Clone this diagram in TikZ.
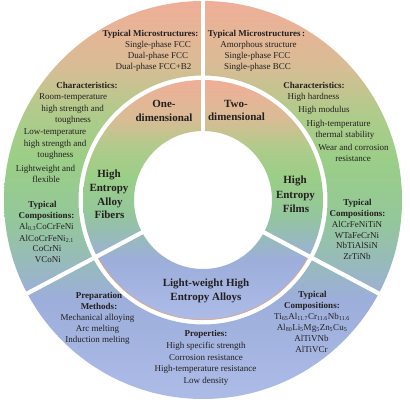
\documentclass[tikz,border=0pt]{standalone}
\usepackage{fontspec}
\setmainfont{Liberation Serif}
\usetikzlibrary{calc}
\definecolor{c1}{HTML}{F0AE98}
\definecolor{c2}{HTML}{D9BC95}
\definecolor{c3}{HTML}{B0CB8B}
\definecolor{c4}{HTML}{9BCE87}
\definecolor{c5}{HTML}{94C79A}
\definecolor{c6}{HTML}{97BBB9}
\definecolor{c7}{HTML}{9DAEDB}
\definecolor{cB}{HTML}{ADBBE7}
\definecolor{ink}{HTML}{231F20}
\definecolor{rim}{HTML}{E9A77A}
\pgfdeclareverticalshading{ringshade}{100bp}{color(0bp)=(cB); color(25bp)=(cB); color(37.5bp)=(c7); color(42.5bp)=(c6); color(47.5bp)=(c5); color(55bp)=(c4); color(61bp)=(c3); color(67bp)=(c2); color(75bp)=(c1); color(100bp)=(c1)}
\begin{document}
\begin{tikzpicture}[x=1pt,y=1pt,
  txt/.style={font=\fontsize{9}{11}\selectfont, anchor=base, inner sep=0pt, text=ink},
  hd/.style={txt, font=\bfseries\fontsize{9}{11}\selectfont},
  big/.style={txt, font=\bfseries\fontsize{11}{14}\selectfont},
  divider/.style={white, line width=4.2pt},
  rimline/.style={rim, line width=0.6pt}]
\fill[white] (0,0) rectangle (410,-403);
\useasboundingbox (0,0) rectangle (410,-403);
\coordinate (c) at (203,-200);
% outer ring
\begin{scope}[even odd rule]
\clip (c) circle (199pt) (c) circle (124.5pt);
\shade[shading=ringshade] (4,-1) rectangle (402,-399);
\end{scope}
% inner ring
\begin{scope}[even odd rule]
\clip (c) circle (120pt) (c) circle (69pt);
\shade[shading=ringshade] (83,-80) rectangle (323,-320);
\end{scope}
\draw[rimline] ($(c)+(208:119.7pt)$) arc[start angle=208, end angle=332, radius=119.7pt];
\foreach \a in {90,208,332}
  \draw[divider] ($(c)+(\a:64pt)$) -- ($(c)+(\a:206pt)$);
% top-left outer
\node[hd] (tl1) at (150.5,-36.5) {Typical Microstructures:};
\node[txt] (tl2) at (158,-47.5) {Single-phase FCC};
\node[txt] (tl3) at (158,-58.5) {Dual-phase FCC};
\node[txt] (tl4) at (153.5,-69.5) {Dual-phase FCC+B2};
% top-right outer
\node[hd] (tr1) at (256.5,-36.5) {Typical Microstructures\,:};
\node[txt] (tr2) at (258.5,-47.5) {Amorphous structure};
\node[txt] (tr3) at (257.5,-58.5) {Single-phase FCC};
\node[txt] (tr4) at (257.5,-69.5) {Single-phase BCC};
% left characteristics
\node[hd] (lc0) at (87,-88.5) {Characteristics:};
\node[txt] (lc1) at (73,-100) {Room-temperature};
\node[txt] (lc2) at (72.5,-111.5) {high strength and};
\node[txt] (lc3) at (73,-123) {toughness};
\node[txt] (lc4) at (55,-135) {Low-temperature};
\node[txt] (lc5) at (55,-146.5) {high strength and};
\node[txt] (lc6) at (55.5,-158) {toughness};
\node[txt] (lc7) at (45.5,-172) {Lightweight and};
\node[txt] (lc8) at (46,-183) {flexible};
% left compositions
\node[hd] (lp0) at (42.5,-207.5) {Typical};
\node[hd] (lp1) at (46.5,-219) {Compositions:};
\node[txt] (lp2) at (46.5,-230) {Al\textsubscript{0.3}CoCrFeNi};
\node[txt] (lp3) at (46.5,-241.5) {AlCoCrFeNi\textsubscript{2.1}};
\node[txt] (lp4) at (47,-251.5) {CoCrNi};
\node[txt] (lp5) at (48,-262.5) {VCoNi};
% right characteristics
\node[hd] (rc0) at (314,-88.5) {Characteristics:};
\node[txt] (rc1) at (313.5,-100) {High hardness};
\node[txt] (rc2) at (324,-112.5) {High modulus};
\node[txt] (rc3) at (338.5,-127) {High-temperature};
\node[txt] (rc4) at (345,-138) {thermal stability};
\node[txt] (rc5) at (353.5,-151) {Wear and corrosion};
\node[txt] (rc6) at (353,-162) {resistance};
% right compositions
\node[hd] (rp0) at (357.5,-206) {Typical};
\node[hd] (rp1) at (357.5,-217) {Compositions:};
\node[txt] (rp2) at (357,-227.5) {AlCrFeNiTiN};
\node[txt] (rp3) at (357,-238.5) {WTaFeCrNi};
\node[txt] (rp4) at (357,-249) {NbTiAlSiN};
\node[txt] (rp5) at (357,-260) {ZrTiNb};
% inner ring labels
\node[big] (od1) at (164,-108) {One-};
\node[big] (od2) at (164,-121.5) {dimensional};
\node[big] (td1) at (236,-107.5) {Two-};
\node[big] (td2) at (236.5,-121) {dimensional};
\node[big] (fb1) at (109,-177.5) {High};
\node[big] (fb2) at (109,-191.5) {Entropy};
\node[big] (fb3) at (110,-205.5) {Alloy};
\node[big] (fb4) at (109.5,-219) {Fibers};
\node[big] (fm1) at (295,-184) {High};
\node[big] (fm2) at (295.5,-198.5) {Entropy};
\node[big] (fm3) at (296,-212.5) {Films};
\node[big] (lw1) at (206,-287) {Light-weight High};
\node[big] (lw2) at (206,-301) {Entropy Alloys};
% bottom-left
\node[hd] (bl0) at (99,-299) {Preparation};
\node[hd] (bl1) at (99,-310) {Methods:};
\node[txt] (bl2) at (97.5,-321) {Mechanical alloying};
\node[txt] (bl3) at (97.5,-332) {Arc melting};
\node[txt] (bl4) at (97.5,-343) {Induction melting};
% bottom-center
\node[hd] (bc0) at (206,-336.5) {Properties:};
\node[txt] (bc1) at (206,-349) {High specific strength};
\node[txt] (bc2) at (206,-360.5) {Corrosion resistance};
\node[txt] (bc3) at (205.5,-372) {High-temperature resistance};
\node[txt] (bc4) at (206,-384) {Low density};
% bottom-right
\node[hd] (br0) at (312.5,-297.5) {Typical};
\node[hd] (br1) at (312,-308.5) {Compositions:};
\node[txt] (br2) at (312,-320) {Ti\textsubscript{65}Al\textsubscript{11.7}Cr\textsubscript{11.6}Nb\textsubscript{11.6}};
\node[txt] (br3) at (312,-331) {Al\textsubscript{80}Li\textsubscript{5}Mg\textsubscript{5}Zn\textsubscript{5}Cu\textsubscript{5}};
\node[txt] (br4) at (311.5,-341.5) {AlTiVNb};
\node[txt] (br5) at (311.5,-352.5) {AlTiVCr};
\end{tikzpicture}
\end{document}
